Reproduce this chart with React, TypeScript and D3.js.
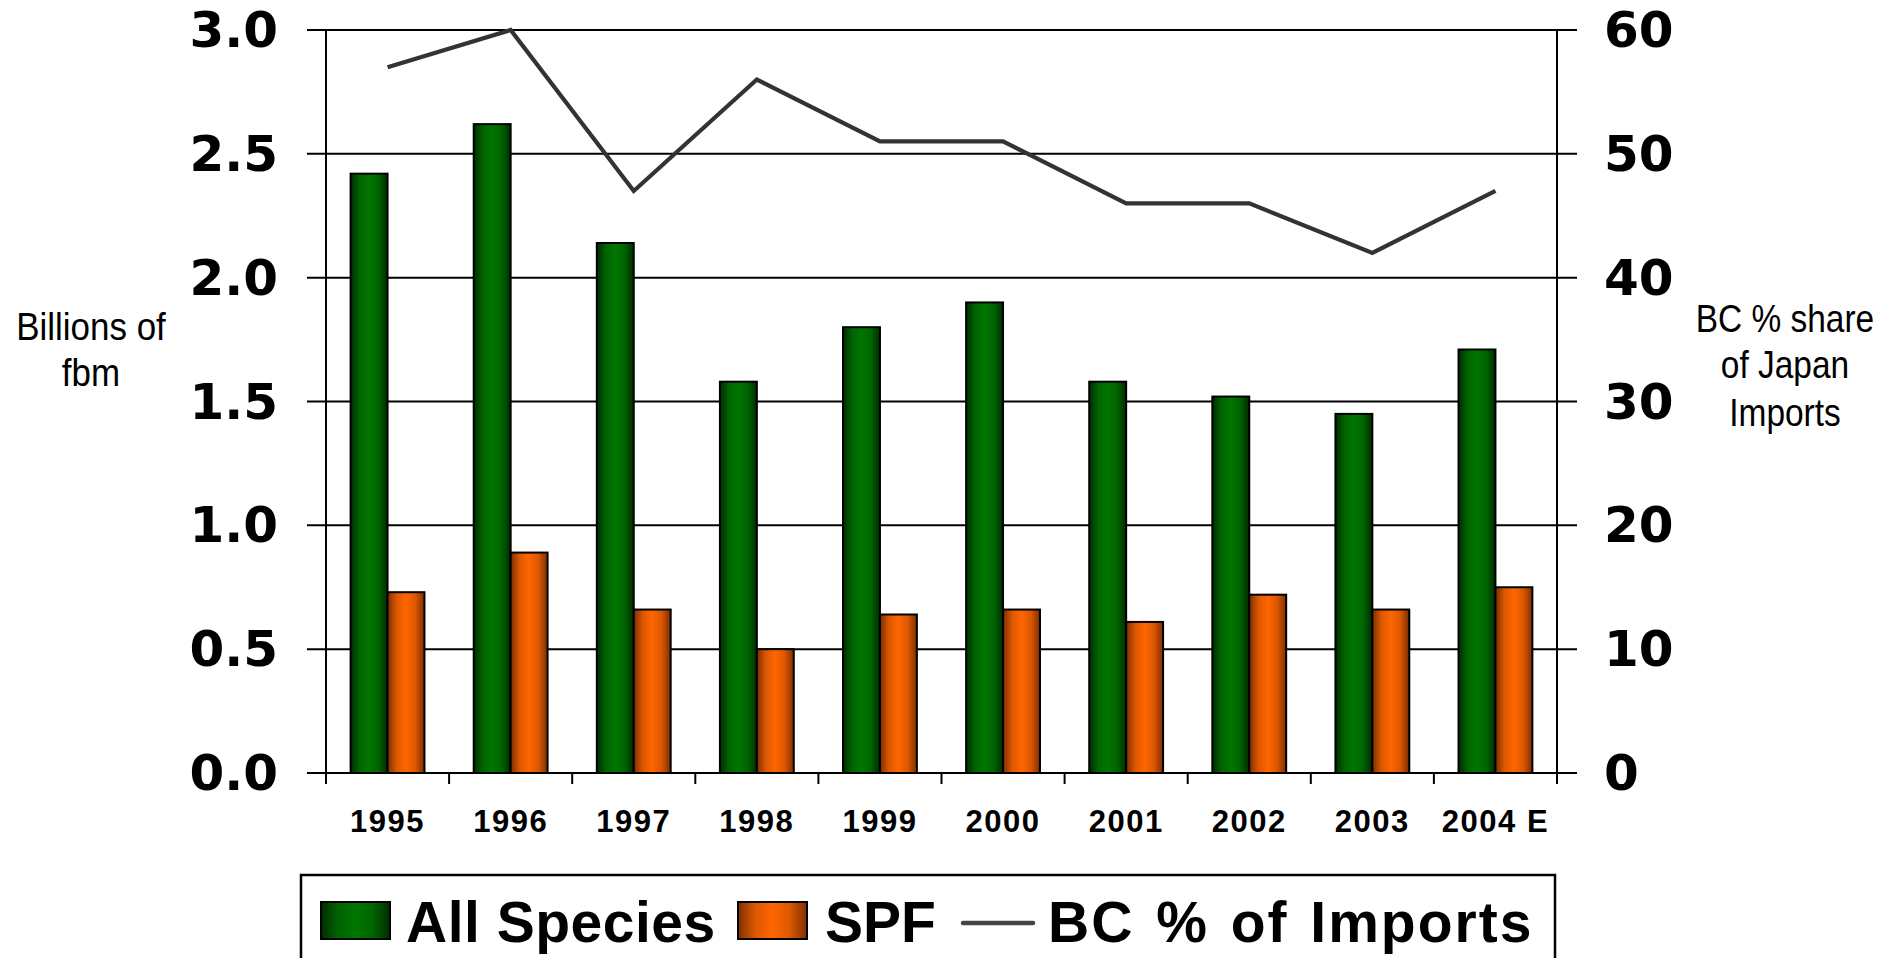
import React from "react";
import * as d3 from "d3";

const categories = ["1995", "1996", "1997", "1998", "1999", "2000", "2001", "2002", "2003", "2004 E"];
const allSpecies = [2.42, 2.62, 2.14, 1.58, 1.80, 1.90, 1.58, 1.52, 1.45, 1.71];
const spf = [0.73, 0.89, 0.66, 0.50, 0.64, 0.66, 0.61, 0.72, 0.66, 0.75];
const bcShare = [57, 60, 47, 56, 51, 51, 46, 46, 42, 47];
const leftTicks = [0, 0.5, 1.0, 1.5, 2.0, 2.5, 3.0];
const rightTicks = [0, 10, 20, 30, 40, 50, 60];
const legendLabels = ["All Species", "SPF", "BC % of Imports"];

const W = 1897;
const H = 958;
const PL = 326;
const PR = 1557;
const PT = 30;
const PB = 773;

export default function App() {
  const x = d3.scaleBand<string>().domain(categories).range([PL, PR]).paddingInner(0).paddingOuter(0);
  const yL = d3.scaleLinear().domain([0, 3]).range([PB, PT]);
  const yR = d3.scaleLinear().domain([0, 60]).range([PB, PT]);
  const bw = x.bandwidth();
  const barW = bw * 0.3;
  const cx = (c: string) => (x(c) as number) + bw / 2;

  const line = d3
    .line<number>()
    .x((_, i) => cx(categories[i]))
    .y((d) => yR(d));

  const tickFont = "'DejaVu Sans', Verdana, sans-serif";
  const sansBold = "'Liberation Sans', Arial, sans-serif";

  const boundaries = d3.range(categories.length + 1).map((i) => PL + i * bw);

  return (
    <svg
      width={W}
      height={H}
      viewBox={`0 0 ${W} ${H}`}
      style={{ position: "absolute", left: 0, top: 0, display: "block", background: "#fff" }}
    >
      <defs>
        <linearGradient id="gGreen" x1="0" x2="1" y1="0" y2="0">
          <stop offset="0%" stopColor="#002c00" />
          <stop offset="25%" stopColor="#006400" />
          <stop offset="50%" stopColor="#007600" />
          <stop offset="75%" stopColor="#006400" />
          <stop offset="100%" stopColor="#002c00" />
        </linearGradient>
        <linearGradient id="gOrange" x1="0" x2="1" y1="0" y2="0">
          <stop offset="0%" stopColor="#7e2e00" />
          <stop offset="25%" stopColor="#dc5800" />
          <stop offset="50%" stopColor="#ff6600" />
          <stop offset="75%" stopColor="#dc5800" />
          <stop offset="100%" stopColor="#7e2e00" />
        </linearGradient>
      </defs>
      <rect x={0} y={0} width={W} height={H} fill="#fff" />

      {/* gridlines */}
      {leftTicks.map((t) => (
        <line key={"g" + t} x1={PL - 19} x2={PR + 20} y1={yL(t)} y2={yL(t)} stroke="#000" strokeWidth={2} />
      ))}

      {/* axes */}
      <line x1={PL} x2={PL} y1={PT} y2={PB + 11} stroke="#000" strokeWidth={2} />
      <line x1={PR} x2={PR} y1={PT} y2={PB + 11} stroke="#000" strokeWidth={2} />
      {boundaries.map((b, i) => (
        <line key={"t" + i} x1={b} x2={b} y1={PB} y2={PB + 11} stroke="#000" strokeWidth={2} />
      ))}

      {/* bars */}
      {categories.map((c, i) => (
        <g key={"b" + c}>
          <rect
            x={cx(c) - barW}
            y={yL(allSpecies[i])}
            width={barW}
            height={PB - yL(allSpecies[i])}
            fill="url(#gGreen)"
            stroke="#000"
            strokeWidth={2}
          />
          <rect
            x={cx(c)}
            y={yL(spf[i])}
            width={barW}
            height={PB - yL(spf[i])}
            fill="url(#gOrange)"
            stroke="#000"
            strokeWidth={2}
          />
        </g>
      ))}

      {/* line */}
      <path d={line(bcShare) || ""} fill="none" stroke="#333" strokeWidth={4.2} strokeLinejoin="miter" />

      {/* left tick labels */}
      {leftTicks.map((t) => (
        <text
          key={"l" + t}
          x={278}
          y={yL(t) + 17}
          textAnchor="end"
          fontFamily={tickFont}
          fontWeight="bold"
          fontSize={50}
          fill="#000"
        >
          {t.toFixed(1)}
        </text>
      ))}
      {/* right tick labels */}
      {rightTicks.map((t) => (
        <text
          key={"r" + t}
          x={1604}
          y={yR(t) + 17}
          textAnchor="start"
          fontFamily={tickFont}
          fontWeight="bold"
          fontSize={50}
          fill="#000"
        >
          {t}
        </text>
      ))}

      {/* category labels */}
      {categories.map((c) => (
        <text
          key={"c" + c}
          x={cx(c)}
          y={832}
          textAnchor="middle"
          fontFamily={sansBold}
          fontWeight="bold"
          fontSize={31}
          letterSpacing={1.5}
          fill="#000"
        >
          {c}
        </text>
      ))}

      {/* axis titles */}
      <g transform="translate(91,0)">
        <text transform="translate(0,340) scale(0.92,1)" textAnchor="middle" fontFamily={sansBold} fontSize={38} fill="#000">
          Billions of
        </text>
        <text transform="translate(0,386) scale(0.92,1)" textAnchor="middle" fontFamily={sansBold} fontSize={38} fill="#000">
          fbm
        </text>
      </g>
      <g transform="translate(1785,0)">
        <text transform="translate(0,332) scale(0.88,1)" textAnchor="middle" fontFamily={sansBold} fontSize={38} fill="#000">
          BC % share
        </text>
        <text transform="translate(0,378) scale(0.88,1)" textAnchor="middle" fontFamily={sansBold} fontSize={38} fill="#000">
          of Japan
        </text>
        <text transform="translate(0,426) scale(0.88,1)" textAnchor="middle" fontFamily={sansBold} fontSize={38} fill="#000">
          Imports
        </text>
      </g>

      {/* legend */}
      <rect x={301} y={875} width={1254} height={120} fill="#fff" stroke="#000" strokeWidth={2.5} />
      <rect x={321} y={902} width={69} height={37} fill="url(#gGreen)" stroke="#000" strokeWidth={2} />
      <text x={406} y={942} fontFamily={sansBold} fontWeight="bold" fontSize={57} letterSpacing={0.5} fill="#000">
        {legendLabels[0]}
      </text>
      <rect x={738} y={902} width={69} height={37} fill="url(#gOrange)" stroke="#000" strokeWidth={2} />
      <text x={825} y={942} fontFamily={sansBold} fontWeight="bold" fontSize={57} fill="#000">
        {legendLabels[1]}
      </text>
      <line x1={963} x2={1033} y1={923} y2={923} stroke="#444" strokeWidth={4.5} strokeLinecap="round" />
      <text x={1048} y={942} fontFamily={sansBold} fontWeight="bold" fontSize={57} letterSpacing={2} wordSpacing={4} fill="#000">
        {legendLabels[2]}
      </text>
    </svg>
  );
}
